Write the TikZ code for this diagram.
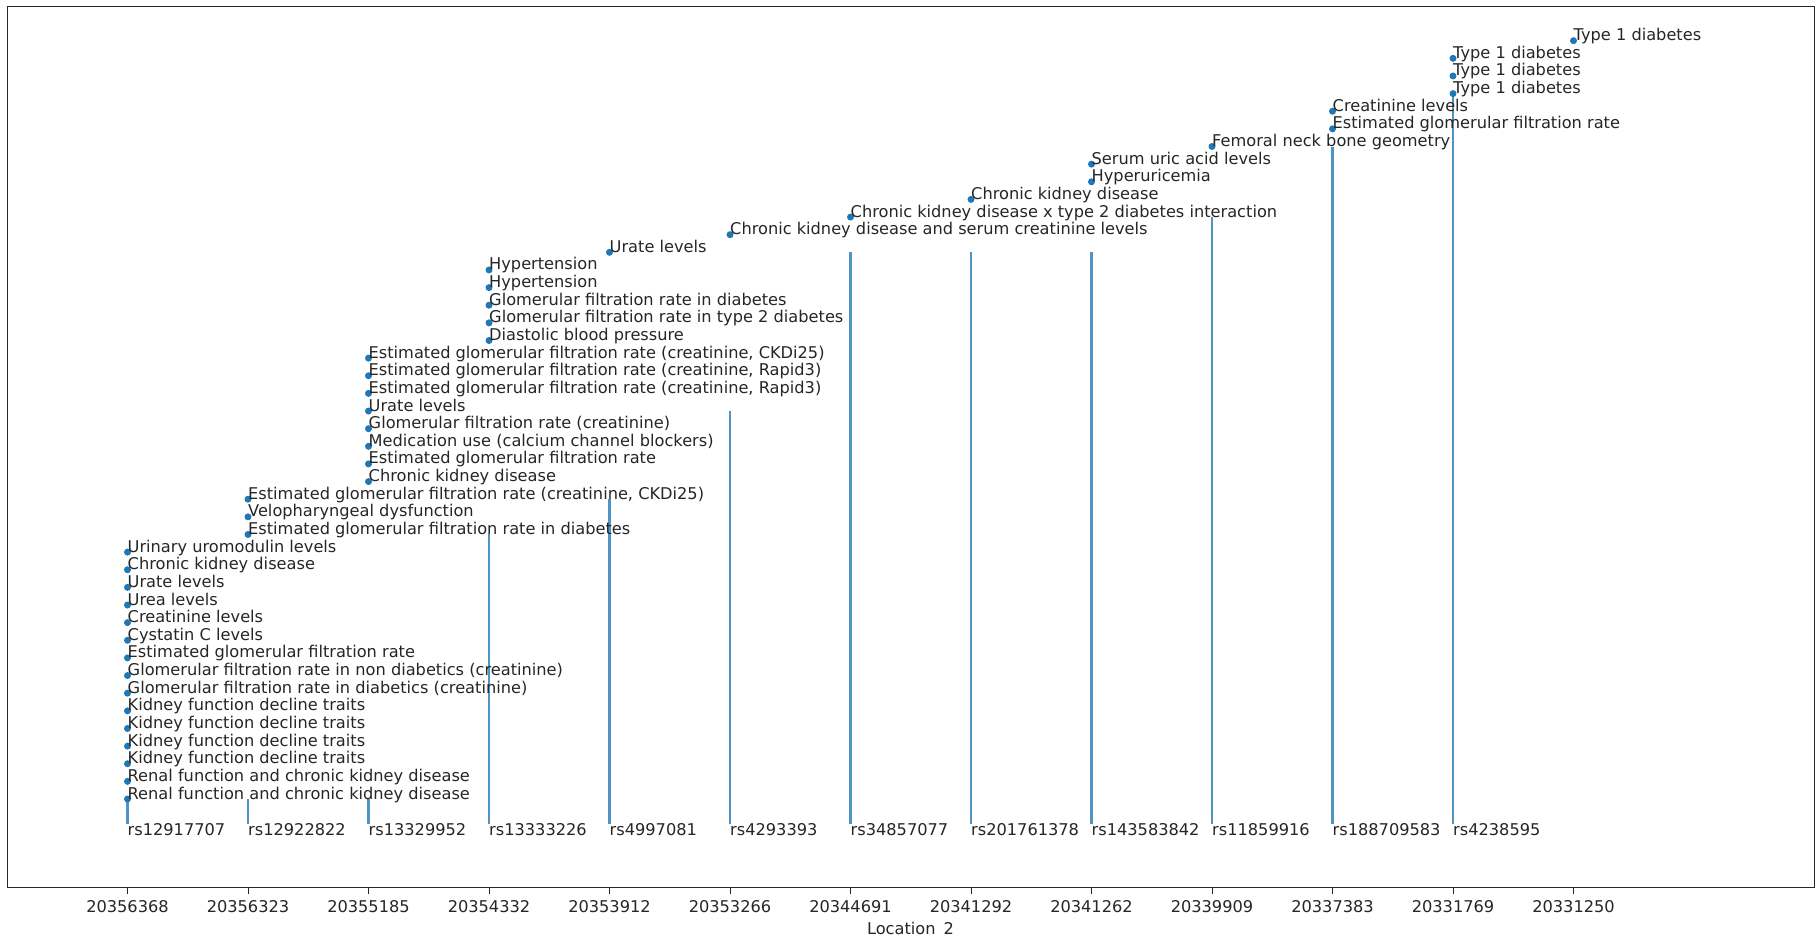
\documentclass[tikz,border=0pt]{standalone}
\usepackage{fontspec}
\setmainfont{DejaVu Sans}
\definecolor{mplblue}{HTML}{1F77B4}
\tikzset{
  frame/.style={draw=black!85, line width=1pt},
  stem/.style={draw=mplblue, draw opacity=0.78, line width=2.3pt},
  dot/.style={circle, fill=mplblue, inner sep=0pt, minimum size=7pt},
  lbl/.style={anchor=base west, inner sep=0pt, text=black!85,
    font=\fontsize{16.2}{19}\selectfont},
  ticklbl/.style={anchor=base, inner sep=0pt, text=black!85,
    font=\fontsize{16.2}{19}\selectfont},
}
\begin{document}
\begin{tikzpicture}[x=1pt,y=-1pt]
\useasboundingbox (0,0) rectangle (1818,936);
\fill[white] (0,0) rectangle (1818,936);

% axes frame
\coordinate (axNW) at (7,6.5);
\coordinate (axSE) at (1814,887);
\draw[frame] (axNW) rectangle (axSE);

% stems with their SNP ids
\foreach \i/\k/\rs in {0/0/rs12917707, 1/0/rs12922822, 2/0/rs13329952,
  3/15/rs13333226, 4/17/rs4997081, 5/22/rs4293393, 6/31/rs34857077,
  7/31/rs201761378, 8/31/rs143583842, 9/33/rs11859916,
  10/37/rs188709583, 11/40/rs4238595} {
  \pgfmathsetmacro\xx{127.5+120.5*\i}
  \pgfmathsetmacro\yy{799-17.635*\k}
  \coordinate (base\i) at (\xx,824);
  \coordinate (top\i) at (\xx,\yy);
  \draw[stem] (base\i) -- (top\i);
  \node[lbl] (rs\i) at (\xx,835.8) {\rs};
}

% x axis ticks and labels
\foreach \i/\t in {0/20356368, 1/20356323, 2/20355185, 3/20354332,
  4/20353912, 5/20353266, 6/20344691, 7/20341292, 8/20341262,
  9/20339909, 10/20337383, 11/20331769, 12/20331250} {
  \pgfmathsetmacro\xx{127.5+120.5*\i}
  \coordinate (tk\i) at (\xx,887);
  \coordinate (tkend\i) at (\xx,893.5);
  \draw[frame] (tk\i) -- (tkend\i);
  \node[ticklbl] (tl\i) at (\xx,912) {\t};
}
\node[ticklbl] (xlab) at (910.5,934.8) {Location\_2};

% traits
\foreach \i/\k/\txt in {
  0/0/{Renal function and chronic kidney disease},
  0/1/{Renal function and chronic kidney disease},
  0/2/{Kidney function decline traits},
  0/3/{Kidney function decline traits},
  0/4/{Kidney function decline traits},
  0/5/{Kidney function decline traits},
  0/6/{Glomerular filtration rate in diabetics (creatinine)},
  0/7/{Glomerular filtration rate in non diabetics (creatinine)},
  0/8/{Estimated glomerular filtration rate},
  0/9/{Cystatin C levels},
  0/10/{Creatinine levels},
  0/11/{Urea levels},
  0/12/{Urate levels},
  0/13/{Chronic kidney disease},
  0/14/{Urinary uromodulin levels},
  1/15/{Estimated glomerular filtration rate in diabetes},
  1/16/{Velopharyngeal dysfunction},
  1/17/{Estimated glomerular filtration rate (creatinine, CKDi25)},
  2/18/{Chronic kidney disease},
  2/19/{Estimated glomerular filtration rate},
  2/20/{Medication use (calcium channel blockers)},
  2/21/{Glomerular filtration rate (creatinine)},
  2/22/{Urate levels},
  2/23/{Estimated glomerular filtration rate (creatinine, Rapid3)},
  2/24/{Estimated glomerular filtration rate (creatinine, Rapid3)},
  2/25/{Estimated glomerular filtration rate (creatinine, CKDi25)},
  3/26/{Diastolic blood pressure},
  3/27/{Glomerular filtration rate in type 2 diabetes},
  3/28/{Glomerular filtration rate in diabetes},
  3/29/{Hypertension},
  3/30/{Hypertension},
  4/31/{Urate levels},
  5/32/{Chronic kidney disease and serum creatinine levels},
  6/33/{Chronic kidney disease x type 2 diabetes interaction},
  7/34/{Chronic kidney disease},
  8/35/{Hyperuricemia},
  8/36/{Serum uric acid levels},
  9/37/{Femoral neck bone geometry},
  10/38/{Estimated glomerular filtration rate},
  10/39/{Creatinine levels},
  11/40/{Type 1 diabetes},
  11/41/{Type 1 diabetes},
  11/42/{Type 1 diabetes},
  12/43/{Type 1 diabetes}} {
  \pgfmathsetmacro\xx{127.5+120.5*\i}
  \pgfmathsetmacro\yy{799-17.635*\k}
  \node[dot] (pt\k) at (\xx,\yy) {};
  \node[lbl] (trait\k) at (\xx,\yy) {\txt};
}
\end{tikzpicture}
\end{document}
